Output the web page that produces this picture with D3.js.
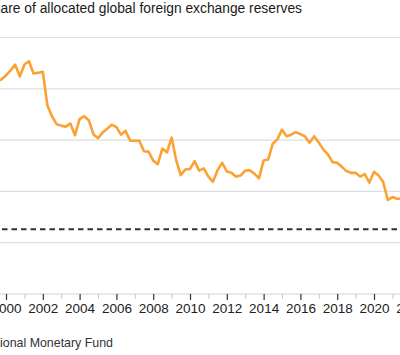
<!DOCTYPE html>
<html>
<head>
<meta charset="utf-8">
<script src="https://cdn.jsdelivr.net/npm/d3@7"></script>
<style>
  html, body { margin: 0; padding: 0; background: #fff; overflow: hidden; }
  svg { display: block; font-family: "Liberation Sans", Arial, sans-serif; }
</style>
</head>
<body>
<svg id="chart" width="400" height="355"></svg>
<script>
// ---- Data (USD share of allocated FX reserves, %, quarterly) ----
const quarters = [
  "1999Q1","1999Q2","1999Q3","1999Q4",
  "2000Q1","2000Q2","2000Q3","2000Q4",
  "2001Q1","2001Q2","2001Q3","2001Q4",
  "2002Q1","2002Q2","2002Q3","2002Q4",
  "2003Q1","2003Q2","2003Q3","2003Q4",
  "2004Q1","2004Q2","2004Q3","2004Q4",
  "2005Q1","2005Q2","2005Q3","2005Q4",
  "2006Q1","2006Q2","2006Q3","2006Q4",
  "2007Q1","2007Q2","2007Q3","2007Q4",
  "2008Q1","2008Q2","2008Q3","2008Q4",
  "2009Q1","2009Q2","2009Q3","2009Q4",
  "2010Q1","2010Q2","2010Q3","2010Q4",
  "2011Q1","2011Q2","2011Q3","2011Q4",
  "2012Q1","2012Q2","2012Q3","2012Q4",
  "2013Q1","2013Q2","2013Q3","2013Q4",
  "2014Q1","2014Q2","2014Q3","2014Q4",
  "2015Q1","2015Q2","2015Q3","2015Q4",
  "2016Q1","2016Q2","2016Q3","2016Q4",
  "2017Q1","2017Q2","2017Q3","2017Q4",
  "2018Q1","2018Q2","2018Q3","2018Q4",
  "2019Q1","2019Q2","2019Q3","2019Q4",
  "2020Q1","2020Q2","2020Q3","2020Q4",
  "2021Q1","2021Q2","2021Q3"
];
const dollarShare = [
  70.8, 70.9, 70.7, 70.9,
  71.3, 71.8, 72.35, 71.2,
  72.37, 72.69, 71.49, 71.57,
  71.65, 68.4, 67.33, 66.55,
  66.41, 66.31, 66.62, 65.48,
  67.04, 67.33, 66.94, 65.58,
  65.19, 65.73, 66.11, 66.5,
  66.26, 65.53, 65.9, 64.93,
  64.93, 64.93, 63.92, 63.88,
  63.0, 62.66, 64.17, 63.8,
  65.24, 63.05, 61.59, 62.14,
  62.19, 62.95, 62.03, 62.24,
  61.44, 60.93, 62.07, 62.78,
  61.95, 61.81, 61.44, 61.54,
  62.03, 62.07, 61.73, 61.27,
  63.02, 63.1, 64.65, 65.07,
  66.02, 65.38, 65.53, 65.77,
  65.58, 65.36, 64.75, 65.38,
  64.75, 64.07, 63.6, 62.85,
  62.8, 62.41, 61.98, 61.81,
  61.81, 61.44, 61.68, 60.86,
  61.91, 61.54, 60.91, 59.16,
  59.45, 59.28, 59.28
];
const gridValues = [55, 60, 65, 70, 75];
const referenceLevel = [56.3];
const tickYears = [1998,1999,2000,2001,2002,2003,2004,2005,2006,2007,2008,2009,2010,
                   2011,2012,2013,2014,2015,2016,2017,2018,2019,2020,2021,2022,2023];
const titleText = "Dollar's share of allocated global foreign exchange reserves";
const sourceText = "Source: International Monetary Fund";

// ---- Layout ----
const svg = d3.select("#chart");
const W = 400;
const parseQ = s => new Date(+s.slice(0, 4), (+s.slice(5) - 1) * 3, 1);
const data = quarters.map((q, i) => ({ date: parseQ(q), value: dollarShare[i] }));

const x = d3.scaleTime()
  .domain([new Date(2000, 0, 1), new Date(2020, 0, 1)])
  .range([6, 374]);
const y = d3.scaleLinear().domain([50, 75]).range([294, 37.5]);

const left = -60, right = W + 60;

// gridlines
svg.append("g").selectAll("line").data(gridValues).join("line")
  .attr("x1", left).attr("x2", right)
  .attr("y1", d => y(d)).attr("y2", d => y(d))
  .attr("stroke", "#dedede").attr("stroke-width", 1.2);

// reference dashed line
svg.append("g").selectAll("line").data(referenceLevel).join("line")
  .attr("x1", 2).attr("x2", right)
  .attr("y1", d => y(d)).attr("y2", d => y(d))
  .attr("stroke", "#333").attr("stroke-width", 2)
  .attr("stroke-dasharray", "5.5,4");

// x axis baseline
svg.append("line")
  .attr("x1", left).attr("x2", right)
  .attr("y1", y(50)).attr("y2", y(50))
  .attr("stroke", "#d6d6d6").attr("stroke-width", 1.2);

// minor ticks (odd years)
const minorTicks = tickYears.filter(yr => yr % 2 !== 0).map(yr => new Date(yr, 0, 1));
const majorTicks = tickYears.filter(yr => yr % 2 === 0).map(yr => new Date(yr, 0, 1));

const axisMinor = d3.axisBottom(x).tickValues(minorTicks).tickSize(5).tickFormat("");
const gMinor = svg.append("g").attr("transform", `translate(0,${y(50)})`).call(axisMinor);
gMinor.select(".domain").remove();
gMinor.selectAll(".tick line").attr("stroke", "#c8c8c8").attr("stroke-width", 1);

const axisMajor = d3.axisBottom(x).tickValues(majorTicks).tickSize(6).tickPadding(4)
  .tickFormat(d3.timeFormat("%Y"));
const gMajor = svg.append("g").attr("transform", `translate(0,${y(50)})`).call(axisMajor);
gMajor.select(".domain").remove();
gMajor.selectAll(".tick line").attr("stroke", "#333").attr("stroke-width", 1.2);
gMajor.selectAll(".tick text")
  .attr("fill", "#222")
  .style("font-size", "13.5px")
  .style("font-family", "'Liberation Sans', Arial, sans-serif")
  .attr("dy", null).attr("y", 19.3);

// line
const line = d3.line().x(d => x(d.date)).y(d => y(d.value)).curve(d3.curveLinear);
svg.append("path").datum(data)
  .attr("fill", "none")
  .attr("stroke", "#fca134")
  .attr("stroke-width", 2.6)
  .attr("stroke-linejoin", "round")
  .attr("stroke-linecap", "round")
  .attr("d", line);

// title
svg.append("text")
  .attr("x", 302).attr("y", 12.7)
  .attr("text-anchor", "end")
  .attr("fill", "#1a1a1a")
  .style("font-size", "13.8px")
  .text(titleText);

// source
svg.append("text")
  .attr("x", 113).attr("y", 347.3)
  .attr("text-anchor", "end")
  .attr("fill", "#333")
  .style("font-size", "12.4px")
  .text(sourceText);
</script>
</body>
</html>
